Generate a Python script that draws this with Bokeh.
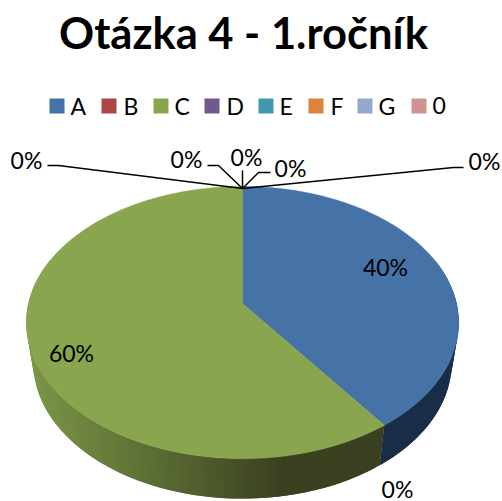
import numpy as np
from bokeh.plotting import figure
from bokeh.models import Range1d
from bokeh.embed import file_html
from bokeh.resources import INLINE
from bokeh.core.properties import value

title_text = "Otázka 4 - 1.ročník"
categories = ["A", "B", "C", "D", "E", "F", "G", "0"]
shares = [40, 0, 60, 0, 0, 0, 0, 0]
colors = ["#4572A7", "#AA4643", "#89A54E", "#71588F", "#4198AF", "#DB843D", "#93A9CF", "#D19392"]

FONT = value("Lato")
p = figure(width=502, height=501, output_backend="svg", toolbar_location=None,
           x_range=Range1d(0, 502), y_range=Range1d(501, 0), min_border=0)
p.axis.visible = False
p.grid.visible = False
p.outline_line_color = None
p.background_fill_color = "white"
p.border_fill_color = "white"

# projection of the tilted disc
CX, CY, AX, BY, K = 242.0, 303.0, 214.0, 133.4, 0.14
DEPTH, SHRINK = 40.0, 0.968

def rim(theta):
    X, Y = np.sin(theta), -np.cos(theta)
    w = 1 - K * Y
    return CX + AX * X / w, CY + BY * Y / w

def low(theta):
    x, y = rim(theta)
    return CX + (x - CX) * SHRINK, y + DEPTH

def mix(c1, c2, t):
    t = max(0.0, min(1.0, t))
    return "#%02x%02x%02x" % tuple(int(round(a + (b - a) * t)) for a, b in zip(c1, c2))

def side_color(i, x):
    if i == 0:
        return "#1a2d48"
    return mix((0x7c, 0x97, 0x47), (0x3a, 0x40, 0x20), (x - 32) / 250)

total = sum(shares)
edges = np.cumsum([0] + shares) / total * 2 * np.pi

# side wall
sx, sy, sc = [], [], []
for i, s in enumerate(shares):
    if s == 0:
        continue
    a0, a1 = max(edges[i], np.radians(70)), min(edges[i + 1], np.radians(290))
    ts = np.linspace(a0, a1, int((a1 - a0) / np.radians(1.5)) + 2)
    step = ts[1] - ts[0]
    # each strip reaches under the next one, so that no seam shows
    for t0, t1 in zip(ts[:-1], ts[1:]):
        t_far = min(t1 + step, a1)
        x0, y0 = rim(t0); x1, y1 = rim(t_far)
        x2, y2 = low(t_far); x3, y3 = low(t0)
        sx.append([x0, x1, x2, x3]); sy.append([y0, y1, y2, y3])
        xa, _ = low(t1)
        sc.append(side_color(i, (xa + x3) / 2))
p.patches(sx, sy, fill_color=sc, line_color=None)

# top surface
for i, s in enumerate(shares):
    if s == 0:
        continue
    ts = np.linspace(edges[i], edges[i + 1], 240)
    x, y = rim(ts)
    p.patch(np.r_[CX, x], np.r_[CY, y], fill_color=colors[i], line_color=colors[i], line_width=0.5)

# leader lines
lead_x = [[47, 58, 242], [207, 218, 242], [242, 242], [270, 258, 242], [463, 453, 242]]
lead_y = [[165, 165, 188], [165, 165, 188], [170, 188], [172, 172, 188], [167, 167, 188]]
p.multi_line(lead_x, lead_y, line_color="black", line_width=1.5)

# data labels, one per category
label_x = [385, 397, 71, 26, 186, 246, 290, 484]
label_y = [266, 488, 352, 159, 158, 156, 167, 160]
p.text(label_x, label_y, text=[f"{s}%" for s in shares], text_font=FONT, text_font_size="23px",
       text_color="black", text_align="center", text_baseline="middle")

# legend
key_x = [49, 101, 153, 204, 258, 308, 357, 411]
name_x = [70, 123, 174, 226, 279, 330, 378, 432]
p.quad(left=key_x, right=[k + 15 for k in key_x], top=[98] * 8, bottom=[113] * 8,
       fill_color=colors, line_color=None)
p.text(name_x, [105] * 8, text=categories, text_font=FONT, text_font_size="23px",
       text_color="black", text_align="left", text_baseline="middle")

# title
p.text([243], [31], text=[title_text], text_font=FONT, text_font_size="43.5px", text_font_style="bold",
       text_color="black", text_align="center", text_baseline="middle")

open("out.html", "w").write(file_html(p, INLINE))
